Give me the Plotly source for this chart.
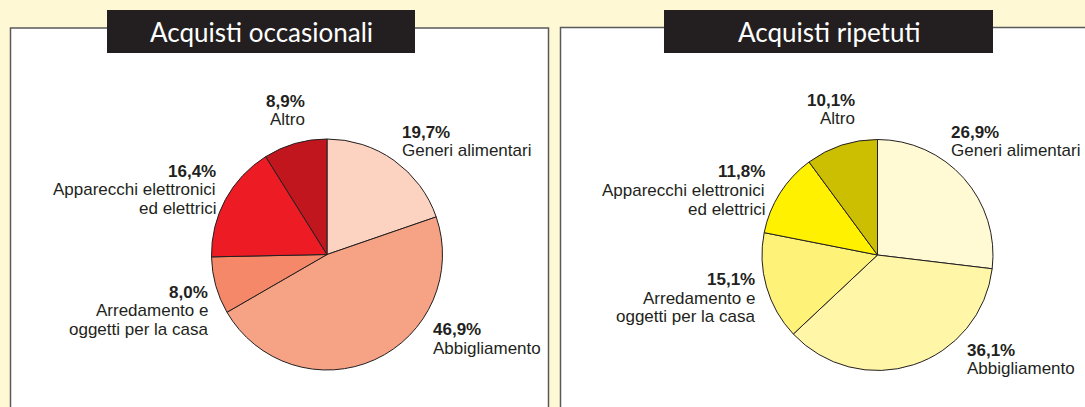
import plotly.graph_objects as go

W, H = 1085, 407

categories = ["Generi alimentari", "Abbigliamento", "Arredamento e oggetti per la casa",
              "Apparecchi elettronici ed elettrici", "Altro"]
label_lines = [["Generi alimentari"], ["Abbigliamento"], ["Arredamento e", "oggetti per la casa"],
               ["Apparecchi elettronici", "ed elettrici"], ["Altro"]]
occasionali = [19.7, 46.9, 8.0, 16.4, 8.9]
ripetuti = [26.9, 36.1, 15.1, 11.8, 10.1]
titles = ["Acquisti occasionali", "Acquisti ripetuti"]

colors_occ = ["#FCD3C1", "#F6A285", "#F58868", "#ED1C24", "#C1161E"]
colors_rip = ["#FFF9D4", "#FFF6A8", "#FFF279", "#FFF100", "#CCBE00"]

BG = "#FEF9D4"
INK = "#231F20"


def px_x(x):
    return x / W


def px_y(y):
    return 1 - y / H


fig = go.Figure()

# pies: (center x, center y, radius) in pixels
pies = [(327, 254.5, 115.5, occasionali, colors_occ), (877.5, 255, 115.5, ripetuti, colors_rip)]
for cx, cy, r, vals, cols in pies:
    fig.add_trace(go.Pie(
        labels=categories, values=vals, sort=False, direction="clockwise", rotation=0,
        marker=dict(colors=cols, line=dict(color=INK, width=1)),
        textinfo="none", hoverinfo="label+percent", showlegend=False,
        domain=dict(x=[px_x(cx - r), px_x(cx + r)], y=[px_y(cy + r), px_y(cy - r)]),
    ))

shapes = []
# panels
shapes.append(dict(type="rect", xref="paper", yref="paper", x0=px_x(10.5), x1=px_x(548.5),
                   y0=px_y(440), y1=px_y(28), fillcolor="white",
                   line=dict(color="#5a5a5a", width=1.5), layer="below"))
shapes.append(dict(type="rect", xref="paper", yref="paper", x0=px_x(560.5), x1=px_x(1120),
                   y0=px_y(440), y1=px_y(27.5), fillcolor="white",
                   line=dict(color="#5a5a5a", width=1.5), layer="below"))
# title boxes
title_boxes = [(107, 415), (664, 993)]
for (x0, x1) in title_boxes:
    shapes.append(dict(type="rect", xref="paper", yref="paper", x0=px_x(x0), x1=px_x(x1),
                       y0=px_y(53), y1=px_y(10), fillcolor=INK, line=dict(width=0), layer="above"))

annotations = []
for (x0, x1), t in zip(title_boxes, titles):
    annotations.append(dict(xref="paper", yref="paper", x=px_x((x0 + x1) / 2), y=px_y(31.5),
                            text=t, showarrow=False, xanchor="center", yanchor="middle",
                            font=dict(family="Lato", size=26, color="white")))


def fmt(v):
    return f"{v:.1f}%".replace(".", ",")


# label placements: (x px, first-line center y px, anchor) per category
label_pos_occ = [(402, 131, "left"), (433, 328.5, "left"), (208, 291, "right"),
                 (216, 170, "right"), (305, 100, "right")]
label_pos_rip = [(951, 131, "left"), (967, 349, "left"), (755, 278.5, "right"),
                 (765, 171, "right"), (855, 99.5, "right")]
LINE = 18.5
FONT = "Liberation Sans, Arial"

for vals, pos in [(occasionali, label_pos_occ), (ripetuti, label_pos_rip)]:
    for v, lines, (x, y, anc) in zip(vals, label_lines, pos):
        texts = [f"<b>{fmt(v)}</b>"] + lines
        for i, t in enumerate(texts):
            annotations.append(dict(
                xref="paper", yref="paper", x=px_x(x), y=px_y(y + i * LINE + 1),
                text=t, showarrow=False, xanchor=anc, yanchor="middle", align=anc,
                borderpad=0, borderwidth=0,
                font=dict(family=FONT, size=17, color=INK),
            ))

fig.update_layout(
    width=W, height=H, margin=dict(l=0, r=0, t=0, b=0),
    paper_bgcolor=BG, plot_bgcolor=BG,
    shapes=shapes, annotations=annotations,
)

fig.write_html("out.html", config={"displayModeBar": False},
               post_script="document.body.style.margin='0';document.body.style.background='" + BG + "';")
